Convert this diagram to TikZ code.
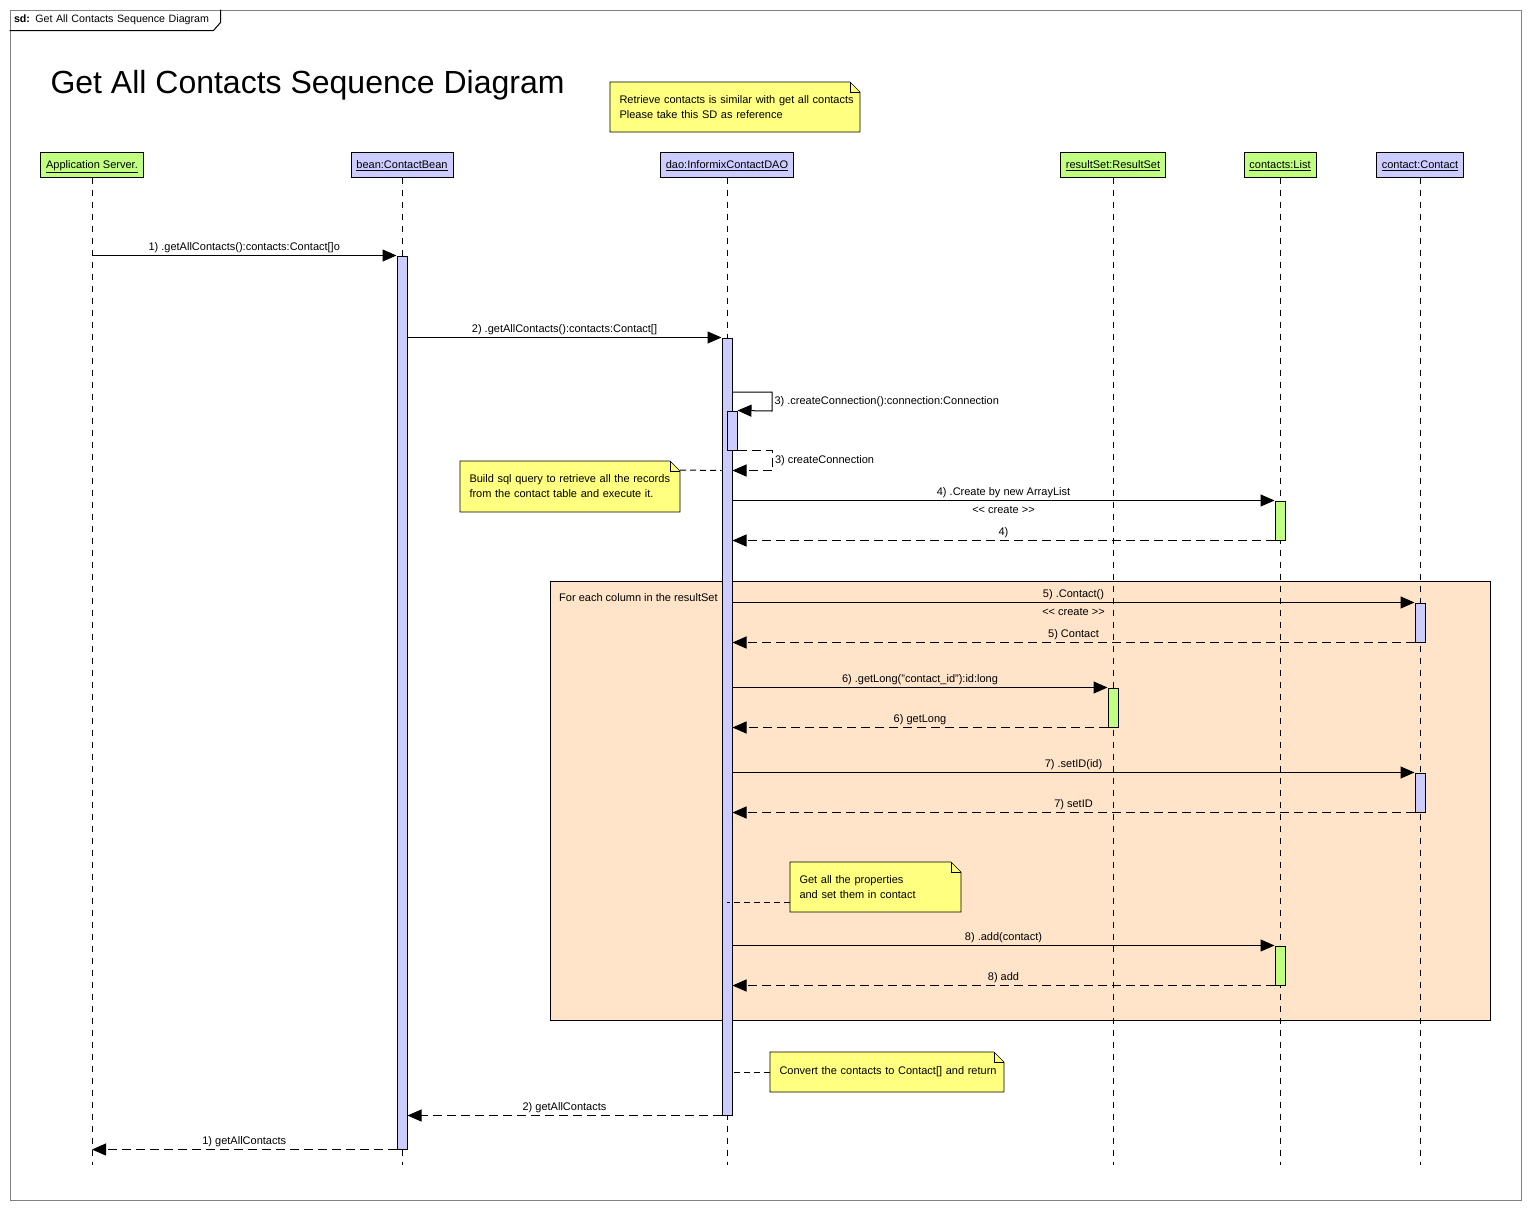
\documentclass[tikz,border=0pt]{standalone}
\usepackage{fontspec}
\setmainfont{Liberation Sans}
\usetikzlibrary{arrows.meta, positioning, calc, backgrounds, fit}
\definecolor{lifegreen}{HTML}{C0FF80}
\definecolor{lifeblue}{HTML}{CCCCFF}
\definecolor{noteyellow}{HTML}{FFFF80}
\definecolor{loopfill}{HTML}{FFE4CA}
\definecolor{framegray}{HTML}{808080}
\newdimen\pxu \pxu=0.75pt

\begin{document}
\begin{tikzpicture}[x=0.75pt, y=-0.75pt, line width=\pxu,
    font=\fontsize{8.25}{10}\selectfont,
    headbox/.style={draw, fill=#1, minimum height=25\pxu, inner sep=0pt, text depth=0pt},
    actbar/.style={draw, fill=#1, inner sep=0pt},
    lifeline/.style={dash pattern=on 6\pxu off 6\pxu},
    msg/.style={-{Triangle[length=10.5pt, width=9pt]}},
    reply/.style={msg, dash pattern=on 9\pxu off 5\pxu},
    lbl/.style={inner sep=2\pxu},
    notebox/.style={anchor=north west, inner xsep=9\pxu, inner ysep=0pt, align=left, font=\fontsize{8.25}{11.25}\selectfont},
    notelink/.style={dash pattern=on 6\pxu off 4\pxu},
    loopbox/.style={draw, fill=loopfill, inner sep=0pt}
]
\useasboundingbox (0,0) rectangle (1531,1210);

% Frame and title
\node[draw=framegray, inner sep=0pt, fit={(10,10) (1521,1200)}] (sdframe) {};
\node[anchor=north west, inner xsep=4\pxu, inner ysep=0pt, minimum height=20\pxu, text width=202\pxu, font=\fontsize{8}{10}\selectfont] (sdtag) at (sdframe.north west) {\textbf{sd:} Get All Contacts Sequence Diagram};
\draw (sdtag.south west) -- ([xshift=-7\pxu]sdtag.south east) -- ([yshift=8\pxu]sdtag.south east) -- (sdtag.north east);
\node[anchor=west, inner sep=0pt, font=\fontsize{24}{28}\selectfont] (title) at (50,85) {Get All Contacts Sequence Diagram};

% Notes
\node[notebox, text width=231\pxu, minimum height=49\pxu] (nretrieve) at (610,82) {\mbox{Retrieve contacts is similar with get all contacts}\\\mbox{Please take this SD as reference}};
\node[notebox, text width=201\pxu, minimum height=50\pxu] (nbuild) at (460,461) {\mbox{Build sql query to retrieve all the records}\\\mbox{from the contact table and execute it.}};
\node[notebox, text width=152\pxu, minimum height=49\pxu] (nprops) at (790,862) {\mbox{Get all the properties}\\\mbox{and set them in contact}};
\node[notebox, text width=215\pxu, minimum height=39\pxu] (nconvert) at (770,1052) {\mbox{Convert the contacts to Contact[] and return}};

% Lifeline heads
\node[headbox=lifegreen, minimum width=103\pxu] (app) at (92,164.5) {\underline{Application Server.}};
\node[headbox=lifeblue, minimum width=102\pxu] (bean) at (402,164.5) {\underline{bean:ContactBean}};
\node[headbox=lifeblue, minimum width=133\pxu] (dao) at (727,164.5) {\underline{dao:InformixContactDAO}};
\node[headbox=lifegreen, minimum width=105\pxu] (rs) at (1113,164.5) {\underline{resultSet:ResultSet}};
\node[headbox=lifegreen, minimum width=72\pxu] (list) at (1280,164.5) {\underline{contacts:List}};
\node[headbox=lifeblue, minimum width=87\pxu] (contact) at (1420,164.5) {\underline{contact:Contact}};

% Background: loop and note shapes
\begin{scope}[on background layer]
  \node[loopbox, fit={(550,581) (1490,1020)}] (loop) {};
  \foreach \n in {nretrieve,nbuild,nprops,nconvert} {
    \draw[fill=noteyellow] (\n.south west) -- (\n.north west) -- ([xshift=-10\pxu]\n.north east) -- ([yshift=-10\pxu]\n.north east) -- (\n.south east) -- cycle;
    \draw ([xshift=-10\pxu]\n.north east) -- ++(0,10) -- ([yshift=-10\pxu]\n.north east);
  }
\end{scope}
\node[lbl, below right=10\pxu and 7\pxu of loop.north west] (looplbl) {For each column in the resultSet};

% Lifelines
\coordinate (lifeend) at (0,1165);
\foreach \n in {app,bean,dao,rs,list,contact}
  \draw[lifeline] (\n.south) -- (\n.south |- lifeend);

% Activation bars
\node[actbar=lifeblue, fit={(397,256) (407,1149)}] (barbean) {};
\node[actbar=lifeblue, fit={(722,338) (732,1115)}] (bardao) {};
\node[actbar=lifeblue, fit={(727,411) (737,450)}] (barconn) {};
\node[actbar=lifegreen, fit={(1275,501) (1285,540)}] (barlist1) {};
\node[actbar=lifeblue, fit={(1415,603) (1425,642)}] (barcontact1) {};
\node[actbar=lifegreen, fit={(1108,688) (1118,727)}] (barrs) {};
\node[actbar=lifeblue, fit={(1415,773) (1425,812)}] (barcontact2) {};
\node[actbar=lifegreen, fit={(1275,946) (1285,985)}] (barlist2) {};

% Messages
\draw[msg] (app.south |- barbean.north) -- node[lbl, above] {1) .getAllContacts():contacts:Contact[]o} (barbean.north west);
\draw[msg] (barbean.east |- bardao.north) -- node[lbl, above] {2) .getAllContacts():contacts:Contact[]} (bardao.north west);

\coordinate (selfcall) at (732,392);
\draw[msg] (selfcall) -- ++(40,0) -- node[lbl, anchor=west] {3) .createConnection():connection:Connection} ++(0,19) -- (barconn.north east);
\draw[reply] (barconn.south east) -- ++(35,0) -- node[lbl, anchor=west] {3) createConnection} ++(0,20) -- ++(-40,0) coordinate (retconn);

\draw[msg] (bardao.east |- barlist1.north) -- node[lbl, above] {4) .Create by new ArrayList} node[lbl, below=3\pxu] {<{}< create >{}>} (barlist1.north west);
\draw[reply] (barlist1.south west) -- node[lbl, above] {4)} (bardao.east |- barlist1.south);

\draw[msg] (bardao.east |- barcontact1.north) -- node[lbl, above] {5) .Contact()} node[lbl, below=3\pxu] {<{}< create >{}>} (barcontact1.north west);
\draw[reply] (barcontact1.south west) -- node[lbl, above] {5) Contact} (bardao.east |- barcontact1.south);

\draw[msg] (bardao.east |- barrs.north) -- node[lbl, above] {6) .getLong("contact\_id"):id:long} (barrs.north west);
\draw[reply] (barrs.south west) -- node[lbl, above] {6) getLong} (bardao.east |- barrs.south);

\draw[msg] (bardao.east |- barcontact2.north) -- node[lbl, above] {7) .setID(id)} (barcontact2.north west);
\draw[reply] (barcontact2.south west) -- node[lbl, above] {7) setID} (bardao.east |- barcontact2.south);

\draw[msg] (bardao.east |- barlist2.north) -- node[lbl, above] {8) .add(contact)} (barlist2.north west);
\draw[reply] (barlist2.south west) -- node[lbl, above] {8) add} (bardao.east |- barlist2.south);

\draw[reply] (bardao.south west) -- node[lbl, above] {2) getAllContacts} (barbean.east |- bardao.south);
\draw[reply] (barbean.south west) -- node[lbl, above] {1) getAllContacts} (app.south |- barbean.south);

% Note links
\draw[notelink] ([yshift=-9\pxu]nbuild.north east) -- (bardao.west |- retconn);
\coordinate (propslink) at ([yshift=10\pxu]nprops.south west);
\draw[notelink] (propslink) -- (bardao.center |- propslink);
\draw[notelink] (nconvert.west) -- (bardao.east |- nconvert.west);

\end{tikzpicture}
\end{document}
